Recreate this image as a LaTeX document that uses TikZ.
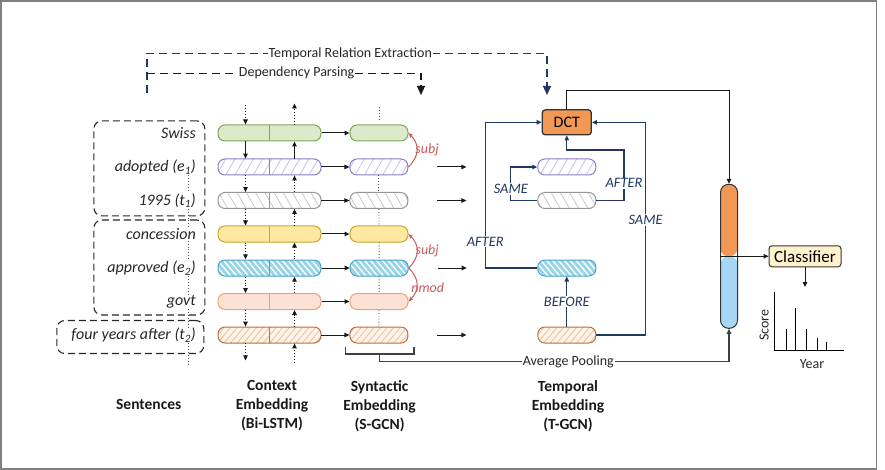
\documentclass[tikz,border=0pt]{standalone}
\usepackage{fontspec}
\setmainfont{Carlito}
\usetikzlibrary{arrows.meta, calc, positioning, patterns.meta}
\definecolor{relblue}{RGB}{31,56,100}
\definecolor{deprose}{RGB}{204,88,88}
\definecolor{framegrey}{RGB}{128,128,128}
\definecolor{leafgreen}{RGB}{220,234,204}
\definecolor{leafgreenline}{RGB}{130,165,85}
\definecolor{lilac}{RGB}{200,190,232}
\definecolor{lilacline}{RGB}{140,125,200}
\definecolor{ash}{RGB}{200,200,200}
\definecolor{ashline}{RGB}{150,150,150}
\definecolor{butter}{RGB}{255,232,160}
\definecolor{butterline}{RGB}{205,165,45}
\definecolor{sky}{RGB}{150,212,232}
\definecolor{skyline}{RGB}{70,165,200}
\definecolor{peach}{RGB}{252,226,212}
\definecolor{peachline}{RGB}{240,160,120}
\definecolor{rust}{RGB}{232,190,155}
\definecolor{rustbg}{RGB}{253,243,234}
\definecolor{rustline}{RGB}{190,110,50}
\definecolor{dctorange}{RGB}{240,152,84}
\definecolor{cream}{RGB}{255,242,204}
\definecolor{poolblue}{RGB}{165,215,245}

\begin{document}
\begin{tikzpicture}
	[x=1pt, y=-1pt, >={Triangle[length=5pt, width=4.5pt]},
	word/.style={font=\fontsize{16}{18}\selectfont\itshape, text=black!85, anchor=east, inner sep=1pt},
	sentbox/.style={draw=black!85, dash pattern=on 7pt off 4pt, line width=1.1pt, rounded corners=8pt},
	bar/.style={draw, line width=1pt, rounded corners=7pt, minimum height=16pt, inner sep=0pt},
	lstm/.style={bar, minimum width=103pt},
	gcn/.style={bar, minimum width=58pt},
	halved/.style={path picture={\draw[#1, line width=1pt] (path picture bounding box.north) -- (path picture bounding box.south);}},
	greenbar/.style={fill=leafgreen, draw=leafgreenline},
	lilacbar/.style={draw=lilacline, pattern={Lines[angle=60, distance=8pt, line width=0.8pt]}, pattern color=lilac},
	ashbar/.style={draw=ashline, pattern={Lines[angle=-60, distance=8pt, line width=0.8pt]}, pattern color=ash},
	butterbar/.style={fill=butter, draw=butterline},
	skybar/.style={draw=skyline, preaction={fill=sky}, pattern={Lines[angle=-50, distance=4.5pt, line width=1.4pt]}, pattern color=white},
	peachbar/.style={fill=peach, draw=peachline},
	rustbar/.style={draw=rustline, preaction={fill=rustbg}, pattern={Lines[angle=50, distance=5pt, line width=0.8pt]}, pattern color=rust},
	dctbox/.style={draw=black!80, fill=dctorange, line width=1.3pt, rounded corners=3pt, minimum width=49pt, minimum height=25pt, inner sep=0pt, font=\fontsize{16}{18}\selectfont},
	clfbox/.style={draw=black!80, fill=cream, line width=1pt, rounded corners=3pt, minimum width=72pt, minimum height=21pt, inner sep=0pt, font=\fontsize{17}{19}\selectfont},
	lbl/.style={font=\fontsize{14}{16}\selectfont, text=black!85},
	colhead/.style={font=\fontsize{15.5}{19}\selectfont\bfseries, align=center, text=black!90},
	flow/.style={->, line width=1pt, black!90},
	dotarr/.style={->, line width=0.9pt, dash pattern=on 0.9pt off 2pt, black!90},
	dotline/.style={line width=0.9pt, dash pattern=on 0.9pt off 2pt, black!70},
	rel/.style={->, relblue, line width=1.1pt},
	rellbl/.style={font=\fontsize{14.4}{16}\selectfont\itshape, text=relblue, fill=white, inner sep=1pt},
	dep/.style={-{Stealth[length=5pt, width=4pt]}, deprose, line width=1pt},
	deplbl/.style={font=\fontsize{14}{16}\selectfont\itshape, text=deprose, inner sep=1pt},
	reldash/.style={relblue, dash pattern=on 8pt off 5pt, line width=1.1pt, -{Triangle[length=9pt, width=8pt]}},
	depdash/.style={black!90, dash pattern=on 8pt off 5pt, line width=1.1pt, -{Triangle[length=9pt, width=8pt]}},
	poolline/.style={black!75, line width=1.2pt},
	chartline/.style={black, line width=0.9pt}]

	\useasboundingbox (0,0) rectangle (885,470);
	\draw[framegrey, line width=1.6pt] (0.8,0.8) rectangle (876.5,469.2);

	% sentences
	\node[word] (swiss) at (197,133) {Swiss};
	\node[word] (adopted) at (197,167) {adopted (e\textsubscript{1})};
	\node[word] (year1995) at (197,200.5) {1995 (t\textsubscript{1})};
	\node[word] (concession) at (197,234) {concession};
	\node[word] (approved) at (197,268) {approved (e\textsubscript{2})};
	\node[word] (govt) at (197,301.5) {govt};
	\node[word] (fouryears) at (197,335) {four years after (t\textsubscript{2})};

	\node[sentbox, minimum width=111pt, minimum height=95pt] (grp1) at (149.4,168.4) {};
	\node[sentbox, minimum width=111pt, minimum height=95pt] (grp2) at (149.4,267.5) {};
	\node[sentbox, minimum width=147pt, minimum height=33pt] (grp3) at (130.3,337) {};

	\coordinate (sdot) at (188.8,0);
	\coordinate (sentend) at (188.8,364);
	\draw[dotline] (sdot |- adopted.south) -- (sdot |- year1995.north);
	\draw[dotline] (sdot |- year1995.south) -- (sdot |- concession.north);
	\draw[dotline] (sdot |- concession.south) -- (sdot |- approved.north);
	\draw[dotline] (sdot |- approved.south) -- (sdot |- govt.north);
	\draw[dotline] (sdot |- govt.south) -- (sdot |- fouryears.north);
	\draw[dotline] (sdot |- fouryears.south) -- (sentend);

	% context embedding (Bi-LSTM) and syntactic embedding (S-GCN)
	\node[lstm, greenbar, halved=leafgreenline] (ctx1) at (269.5,133) {};
	\node[lstm, lilacbar, halved=lilacline] (ctx2) at (269.5,167) {};
	\node[lstm, ashbar, halved=ashline] (ctx3) at (269.5,200.5) {};
	\node[lstm, butterbar, halved=butterline] (ctx4) at (269.5,234) {};
	\node[lstm, skybar, halved=skyline] (ctx5) at (269.5,268) {};
	\node[lstm, peachbar, halved=peachline] (ctx6) at (269.5,301.5) {};
	\node[lstm, rustbar, halved=rustline] (ctx7) at (269.5,335) {};

	\node[gcn, greenbar, right=28pt of ctx1] (syn1) {};
	\node[gcn, lilacbar, right=28pt of ctx2] (syn2) {};
	\node[gcn, ashbar, right=28pt of ctx3] (syn3) {};
	\node[gcn, butterbar, right=28pt of ctx4] (syn4) {};
	\node[gcn, skybar, right=28pt of ctx5] (syn5) {};
	\node[gcn, peachbar, right=28pt of ctx6] (syn6) {};
	\node[gcn, rustbar, right=28pt of ctx7] (syn7) {};

	\draw[flow] (ctx1) -- (syn1);
	\draw[flow] (ctx2) -- (syn2);
	\draw[flow] (ctx3) -- (syn3);
	\draw[flow] (ctx4) -- (syn4);
	\draw[flow] (ctx5) -- (syn5);
	\draw[flow] (ctx6) -- (syn6);
	\draw[flow] (ctx7) -- (syn7);

	% forward and backward passes
	\draw[dotarr] ([xshift=-24pt, yshift=19pt]ctx1.north) -- ([xshift=-24pt]ctx1.north);
	\draw[dotarr] ([xshift=25pt]ctx1.north) -- ([xshift=25pt, yshift=21pt]ctx1.north);
	\draw[flow] ([xshift=-24pt]ctx1.south) -- ([xshift=-24pt]ctx2.north);
	\draw[flow] ([xshift=25pt]ctx2.north) -- ([xshift=25pt]ctx1.south);
	\draw[dotarr] ([xshift=-24pt]ctx2.south) -- ([xshift=-24pt]ctx3.north);
	\draw[dotarr] ([xshift=25pt]ctx3.north) -- ([xshift=25pt]ctx2.south);
	\draw[dotarr] ([xshift=-24pt]ctx3.south) -- ([xshift=-24pt]ctx4.north);
	\draw[dotarr] ([xshift=25pt]ctx4.north) -- ([xshift=25pt]ctx3.south);
	\draw[dotarr] ([xshift=-24pt]ctx4.south) -- ([xshift=-24pt]ctx5.north);
	\draw[dotarr] ([xshift=25pt]ctx5.north) -- ([xshift=25pt]ctx4.south);
	\draw[dotarr] ([xshift=-24pt]ctx5.south) -- ([xshift=-24pt]ctx6.north);
	\draw[dotarr] ([xshift=25pt]ctx6.north) -- ([xshift=25pt]ctx5.south);
	\draw[dotarr] ([xshift=-24pt]ctx6.south) -- ([xshift=-24pt]ctx7.north);
	\draw[dotarr] ([xshift=25pt]ctx7.north) -- ([xshift=25pt]ctx6.south);
	\draw[dotarr] ([xshift=-24pt]ctx7.south) -- ([xshift=-24pt, yshift=-17pt]ctx7.south);
	\draw[dotarr] ([xshift=25pt, yshift=-19pt]ctx7.south) -- ([xshift=25pt]ctx7.south);

	\draw[dotline] ([yshift=17pt]syn1.north) -- ([yshift=3pt]syn1.north);
	\draw[dotline] (syn2) -- (syn3);
	\draw[dotline] (syn3) -- (syn4);
	\draw[dotline] (syn4) -- (syn5);
	\draw[dotline] (syn5) -- (syn6);
	\draw[dotline] (syn6) -- (syn7);

	% dependency arcs
	\draw[dep] (syn2.east) to[out=45, in=-45, looseness=1.2] node[deplbl, pos=0.5, anchor=west, xshift=-3pt] {subj} (syn1.east);
	\draw[dep] (syn5.east) to[out=45, in=-45, looseness=1.2] node[deplbl, pos=0.5, anchor=west, xshift=-3pt] {subj} (syn4.east);
	\draw[dep] (syn5.east) to[out=-45, in=45, looseness=1.2] node[deplbl, pos=0.5, anchor=west, xshift=-7pt, yshift=-3pt] {nmod} (syn6.east);

	\draw[flow] ([xshift=29pt]syn2.east) -- ++(29,0);
	\draw[flow] ([xshift=29pt]syn3.east) -- ++(29,0);
	\draw[flow] ([xshift=29pt]syn5.east) -- ++(29,0);
	\draw[flow] ([xshift=29pt]syn7.east) -- ++(29,0);

	% temporal embedding (T-GCN)
	\node[gcn, lilacbar] (evt1) at (566.8,167) {};
	\node[gcn, ashbar] (tim1) at (566.8,200.5) {};
	\node[gcn, skybar] (evt2) at (566.8,268) {};
	\node[gcn, rustbar] (tim2) at (566.8,335) {};
	\node[dctbox, above=23pt of evt1] (dct) {DCT};

	\coordinate (laneA) at (485.2,0);
	\coordinate (laneB) at (510.8,0);
	\coordinate (laneC) at (624,0);
	\coordinate (laneD) at (645.6,0);
	\coordinate (ceil) at (0,90.7);
	\coordinate (sill) at (0,150);

	\draw[rel] (evt2.west) -| node[rellbl, pos=0.59] {AFTER} (laneA |- dct.west) -- (dct.west);
	\draw[rel] (tim2.east) -| node[rellbl, pos=0.77] {SAME} (laneD |- dct.east) -- (dct.east);
	\draw[rel] (tim1.east) -| node[rellbl, pos=0.67] {AFTER} (laneC |- sill) -| (dct.south);
	\draw[rel] (tim1.west) -| node[rellbl, pos=0.67] {SAME} (laneB |- evt1.west) -- (evt1.west);
	\draw[rel] (tim2) -- node[rellbl] {BEFORE} (evt2);

	% extraction steps
	\coordinate (parse0) at (147,93);
	\coordinate (trtip) at (547,95);
	\coordinate (dptip) at (421,95);
	\draw[reldash] (parse0) |- node[lbl, pos=0.754, fill=white, inner sep=1pt] {Temporal Relation Extraction} (trtip |- 0,53.3) -- (trtip);
	\draw[depdash] (parse0 |- 0,73.3) -| node[lbl, pos=0.273, fill=white, inner sep=1pt] {Dependency Parsing} (dptip);

	% document vector and classifier
	\node[draw=black!80, line width=1pt, rounded corners=8pt, minimum width=17pt, minimum height=144pt, inner sep=0pt,
		path picture={\fill[dctorange] (path picture bounding box.north west) rectangle (path picture bounding box.east);
			\fill[poolblue] (path picture bounding box.west) rectangle (path picture bounding box.south east);}] (pool) at (729,256.3) {};
	\node[clfbox] (clf) at (805,256.3) {Classifier};

	\draw[flow] (dct.north) -- (dct.north |- ceil) -| (pool.north);
	\draw[flow] (pool.west) -- (clf.west);

	\coordinate (brkL) at (345.3,346.7);
	\coordinate (brkR) at (414,346.7);
	\coordinate (brkM) at (379.6,354);
	\draw[poolline] (brkL) |- (brkR |- brkM) -- (brkR);
	\draw[poolline, ->] (brkM) -- ++(0,7.7) -| node[lbl, fill=white, pos=0.27, inner sep=1pt] {Average Pooling} (pool.south);

	% score chart
	\coordinate (scoretip) at (805,287);
	\coordinate (origin) at (774.7,350.7);
	\draw[flow] (clf.south) -- (scoretip);
	\draw[chartline] (origin |- 0,291.7) -- (origin) -- (843.5,350.7);
	\draw[chartline] (786,350.7) -- (786,329) (795.3,350.7) -- (795.3,307.7) (806,350.7) -- (806,329)
		(817,350.7) -- (817,338) (826.6,350.7) -- (826.6,341.7);
	\node[lbl, rotate=90] (score) at (764,325) {Score};
	\node[lbl] (year) at (812,364) {Year};

	% column headings
	\node[colhead] (hsent) at (148.7,404) {Sentences};
	\node[colhead] (hctx) at (272,405.5) {Context\\Embedding\\(Bi-LSTM)};
	\node[colhead] (hsyn) at (379.6,406) {Syntactic\\Embedding\\(S-GCN)};
	\node[colhead] (htmp) at (568,406) {Temporal\\Embedding\\(T-GCN)};
\end{tikzpicture}
\end{document}
